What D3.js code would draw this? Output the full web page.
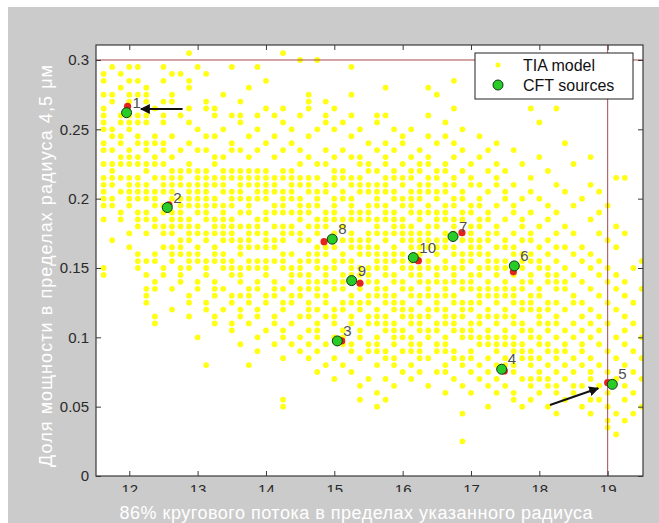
<!DOCTYPE html>
<html>
<head>
<meta charset="utf-8">
<script src="https://cdn.jsdelivr.net/npm/d3@7"></script>
<style>
  html, body { margin: 0; padding: 0; background: #fff; }
  svg { display: block; }
  text { font-family: "Liberation Sans", Arial, sans-serif; }
</style>
</head>
<body>
<svg id="chart" width="659" height="523"></svg>
<script>
// ---- data ----
const xTicks = [12, 13, 14, 15, 16, 17, 18, 19];
const yTicks = [0, 0.05, 0.1, 0.15, 0.2, 0.25, 0.3];
const yTickLabels = ["0", "0.05", "0.1", "0.15", "0.2", "0.25", "0.3"];

// CFT sources (green) and their companion red markers
const cftLabels = ["1", "2", "3", "4", "5", "6", "7", "8", "9", "10"];
const cftX = [11.96, 12.556, 15.044, 17.449, 19.068, 17.634, 16.737, 14.97, 15.254, 16.156];
const cftY = [0.262, 0.1936, 0.0974, 0.077, 0.0661, 0.1515, 0.1727, 0.1708, 0.1409, 0.1575];
const redX = [11.975, 12.58, 15.108, 17.487, 19.0, 17.62, 16.868, 14.85, 15.376, 16.23];
const redY = [0.2665, 0.1955, 0.0974, 0.0758, 0.0673, 0.1472, 0.1755, 0.169, 0.139, 0.1553];

// arrows (tail -> head)
const arrowFrom = [[12.78, 0.2646], [18.156, 0.0512]];
const arrowTo = [[12.17, 0.2646], [18.862, 0.0633]];

const limitX = 19;
const limitY = 0.3;

// TIA model cloud.
// column i sits at x = 11.625 + 0.125*i ; character r in a column is y = 0.305 - 0.005*r
const tiaX0 = 11.625, tiaDx = 0.125, tiaY0 = 0.305, tiaDy = 0.005;
const tiaCols = [
  "...##.#.## ##.##.#.## ###.#..... .##....... .......... ........",
  "..#...##.. .##.#.#### .##....#.. .......... .......... ........",
  "...#.#...# #.##.##.#. #..##..... .......... .......... ........",
  "..#.#.##.# ##..###.## ###...#.#. .......... .......... ........",
  "..#.#.#..# #.##.##.## ##.###...# ##........ .......... ........",
  ".....###.# #..##.##.# ##.##.#... #.#.###... .......... ........",
  "........#. ..##.##.#. ###.##...# #..##...## .......... ........",
  "..#.#..#.# #..##.#.## #.##.##.#. .##....... .......... ........",
  "...#..##.. ..#..#.### ##.####.## #...#..#.. .......... ........",
  "...#.....# ....#..### .#####.### .###...... .......... ........",
  "#...##..#. #..#..##.# ###.####.# ##...##.#. .......... ........",
  "..#....... .#..#..### ####.##.## #..##..... .#........ ........",
  "...#...##. ..#.#..### #####.##.. ###...##.. .....#.... ........",
  "........## ..#..##.## .##.###.## #..###..## .......... ........",
  "......#... .#...#.### #.######.# ##..#..#.. .......... ........",
  "..#......# ...##..##. ###.####.. ###..##..# #......... ........",
  ".......#.# #...#..### ##.#.#.### .###.#.##. ..#....... ........",
  ".....#.... ..#..#.### .###.####. ##..###..# .....#.... ........",
  "..#......# .#..#..### ##..###.#. ##.##..##. .#.#...... ........",
  "....#...#. ...#...### ##.##.###. ###..##... #......... ........",
  ".........# ..#..#..## #.##.#.##. #..###..## ..#....... ........",
  "#.......#. #...#..##. ####.###.# ##..#.##.. ##..#..... ##......",
  ".......... .#.#...### ##.#.##..# .###.##..# ..#....... ........",
  ".#.......# ....#.#.## .####.##.. ###.##..#. .#.#...... ........",
  "......###. ..#..#..## #.##.#.#.# #.###.###. #.#.#..... ........",
  ".#........ .#....#.#. ###.###.## ##.###.#.# ##.#..#... ........",
  ".......#.# #...#.#..# #..###..## .###.##.#. ..#..#.... ........",
  "........#. .#...#.### .####.###. ##.##..### .#..#..#.. ........",
  ".......... #...#..##. ##..##.#.# #.###.##.. ###..#.... ........",
  "..#...#..# ..#..#..## .####.###. ###..##.## ..##..#... ........",
  ".......... .#...##.## #..##..### .####.##.. ##..#...#. #.......",
  ".......... ...#..##.# #.###.#### .###.##.## ..##...#.. ........",
  ".........# #...#..#.# ###.###.## ##.###.### .###.#...# .#......",
  ".....#...# ...#.##.## #.###.##.# ###.###.## #..##..#.. #.......",
  ".......... .#..#..##. ##.####.## #.##.###.# ###.##..#. ........",
  ".......... ..##..#.## .##.####.# ##.##.###. ##.#..#... ........",
  ".......... .#...#.##. ####.####. ###.##.### .###.#.#.. ........",
  ".......... ....#.##.# ##.##.#### .###.##.## #.###.#... ........",
  ".....#...# ..#..##.## #.##.####. ##.###.##. ##..#...#. ........",
  "......#... ...#...##. ##.###.### .###.###.# #.##..#... ........",
  ".......... #.#...##.# #.###.###. ##.###.### .###.##..# ........",
  "....#...#. ...#.#..## .##.###.## .###.##.## #..##..#.. ........",
  ".......... .#..#..#.. ##.##.##.# ##.##.###. ##..##..#. ..#...#.",
  ".......... ......#.## ..##.##### #.###.##.# ##.##.#..# ........",
  ".......... ..#..#...# .##.##.### .##.###.## .##..#.#.. ........",
  ".......... ....#..#.. #..##.##.# ##.###.##. ###.#.#.#. .#......",
  ".......... ...#..#.## ..#..##.#. ###.###.## .###.#.#.# ........",
  ".......... .......#.. ##..#..##. ##.###.##. ###.##..#. ........",
  ".......... ....#....# ..##..#.## .##.###.## .###.##..# #.......",
  ".......... ......#... .#..##.#.# ##.##.##.# #.###..#.. .#......",
  "........#. ........#. #..#..##.# #.##.###.. ##.###.##. #.......",
  ".......... #....#.... .#...#..#. ##..##.### .##.#.##.# ........",
  ".......... .......#.. ..#.#..#.# .###..##.# #.##.#.##. .#......",
  "........#. .........# ...#..#.#. #.###.#.## .#.##.#.## ..#.....",
  ".......... ...#...... #....#..#. .#.##..#.. #.##.#.#.. #.......",
  ".......... ......#... ..#...#..# ..#..##..# .#..#.#.## ........",
  ".......... .......... .#......#. #..#..#.#. #.##.#..#. .#......",
  ".......... .....#...# ....#....# .#..#..#.# .#..#.##.. #.#.....",
  ".......... .......... #..#..#... #.#..#..#. #.#..#..#. #.......",
  ".......... .......... ..#....#.. .#.#..#..# ...#..#..# .#.##...",
  ".......... ........#. .....#..#. ..#.#..#.. .#..#..#.. ..#..#..",
  ".......... ........#. ......#... ...#.#..#. #.#..#..#. #..#....",
  ".......... .......... .......... .#....#..# ...#..#..# ..#.....",
  ".......... .......... .......... #...#..... .#..#..#.. .#......"
];

// ---- build point list from the columns ----
const tia = [];
tiaCols.forEach((col, i) => {
  col.split(" ").forEach((block, b) => {
    for (let k = 0; k < block.length; k++) {
      if (block[k] === "#") tia.push({ x: tiaX0 + i * tiaDx, y: tiaY0 - (b * 10 + k) * tiaDy });
    }
  });
});

const cft = cftLabels.map((l, i) => ({ label: l, x: cftX[i], y: cftY[i], rx: redX[i], ry: redY[i] }));

// ---- layout ----
const W = 659, H = 523;
const plot = { left: 96, right: 643, top: 45, bottom: 476 };

const svg = d3.select("#chart");

const x = d3.scaleLinear().domain([11.513, 19.517]).range([plot.left, plot.right]);
const y = d3.scaleLinear().domain([0, 0.3108]).range([plot.bottom, plot.top]);

// figure background
svg.append("rect").attr("width", W).attr("height", H).attr("fill", "#ffffff");
svg.append("rect").attr("x", 8).attr("y", 7).attr("width", W - 8).attr("height", H - 7).attr("fill", "#cbcbcb");

const defs = svg.append("defs");
defs.append("clipPath").attr("id", "plot-clip")
  .append("rect")
  .attr("x", plot.left).attr("y", plot.top)
  .attr("width", plot.right - plot.left).attr("height", plot.bottom - plot.top);
// the x tick labels are cut off at the bottom in the original
defs.append("clipPath").attr("id", "xlab-clip")
  .append("rect").attr("x", 0).attr("y", 0).attr("width", W).attr("height", 492);
defs.append("marker")
  .attr("id", "arrowhead")
  .attr("viewBox", "0 0 10 10")
  .attr("refX", 9).attr("refY", 5)
  .attr("markerWidth", 5).attr("markerHeight", 5)
  .attr("markerUnits", "strokeWidth")
  .attr("orient", "auto")
  .append("path").attr("d", "M0,0 L10,5 L0,10 z").attr("fill", "#111");

// axes background
svg.append("rect")
  .attr("x", plot.left).attr("y", plot.top)
  .attr("width", plot.right - plot.left).attr("height", plot.bottom - plot.top)
  .attr("fill", "#ffffff");

const inner = svg.append("g").attr("clip-path", "url(#plot-clip)");

// TIA model cloud
inner.selectAll("circle.tia")
  .data(tia)
  .enter().append("circle")
  .attr("class", "tia")
  .attr("cx", d => x(d.x))
  .attr("cy", d => y(d.y))
  .attr("r", 2.9)
  .attr("fill", "#ffff14");

// limit lines
inner.append("line")
  .attr("x1", plot.left).attr("x2", plot.right)
  .attr("y1", y(limitY)).attr("y2", y(limitY))
  .attr("stroke", "#a84a4a").attr("stroke-width", 1);
inner.append("line")
  .attr("x1", x(limitX)).attr("x2", x(limitX))
  .attr("y1", plot.top).attr("y2", plot.bottom)
  .attr("stroke", "#a84a4a").attr("stroke-width", 1);

// axes
const axisColor = "#3a3a3a";
const gx = svg.append("g").attr("clip-path", "url(#xlab-clip)")
  .append("g")
  .attr("transform", `translate(0,${plot.bottom})`)
  .call(d3.axisBottom(x).tickValues(xTicks).tickSizeInner(-5).tickSizeOuter(0).tickPadding(8).tickFormat(d3.format("d")));
const gxTop = svg.append("g")
  .attr("transform", `translate(0,${plot.top})`)
  .call(d3.axisTop(x).tickValues(xTicks).tickSizeInner(-5).tickSizeOuter(0).tickFormat(""));
const gy = svg.append("g")
  .attr("transform", `translate(${plot.left},0)`)
  .call(d3.axisLeft(y).tickValues(yTicks).tickSizeInner(-5).tickSizeOuter(0).tickPadding(7)
    .tickFormat((d, i) => yTickLabels[i]));
const gyRight = svg.append("g")
  .attr("transform", `translate(${plot.right},0)`)
  .call(d3.axisRight(y).tickValues(yTicks).tickSizeInner(-5).tickSizeOuter(0).tickFormat(""));

[gx, gxTop, gy, gyRight].forEach(g => {
  g.select(".domain").remove();
  g.selectAll(".tick line").attr("stroke", axisColor);
  g.selectAll(".tick text")
    .attr("fill", "#2a2a2a")
    .attr("font-size", "15px")
    .attr("font-family", "'Liberation Sans', Arial, sans-serif");
});

svg.append("rect")
  .attr("x", plot.left).attr("y", plot.top)
  .attr("width", plot.right - plot.left).attr("height", plot.bottom - plot.top)
  .attr("fill", "none").attr("stroke", axisColor).attr("stroke-width", 1.2);

// CFT sources
const pts = svg.append("g");
pts.selectAll("circle.red")
  .data(cft)
  .enter().append("circle")
  .attr("class", "red")
  .attr("cx", d => x(d.rx))
  .attr("cy", d => y(d.ry))
  .attr("r", 3.6)
  .attr("fill", "#e3231b");
pts.selectAll("circle.cft")
  .data(cft)
  .enter().append("circle")
  .attr("class", "cft")
  .attr("cx", d => x(d.x))
  .attr("cy", d => y(d.y))
  .attr("r", 5)
  .attr("fill", "#27cc27")
  .attr("stroke", "#123a12")
  .attr("stroke-width", 1);
pts.selectAll("text.num")
  .data(cft)
  .enter().append("text")
  .attr("class", "num")
  .attr("x", d => x(d.x) + 6)
  .attr("y", d => y(d.y) - 5)
  .attr("font-size", "15px")
  .attr("fill", "#505050")
  .text(d => d.label);

// arrows
svg.selectAll("line.arrow")
  .data(arrowFrom)
  .enter().append("line")
  .attr("class", "arrow")
  .attr("x1", d => x(d[0]))
  .attr("y1", d => y(d[1]))
  .attr("x2", (d, i) => x(arrowTo[i][0]))
  .attr("y2", (d, i) => y(arrowTo[i][1]))
  .attr("stroke", "#111")
  .attr("stroke-width", 2)
  .attr("marker-end", "url(#arrowhead)");

// legend
const lg = svg.append("g");
lg.append("rect")
  .attr("x", 475).attr("y", 53).attr("width", 158).attr("height", 46)
  .attr("fill", "#ffffff").attr("stroke", "#222").attr("stroke-width", 1);
lg.append("circle").attr("cx", 498).attr("cy", 65).attr("r", 2.5).attr("fill", "#ffff14");
lg.append("circle").attr("cx", 498).attr("cy", 85).attr("r", 5)
  .attr("fill", "#27cc27").attr("stroke", "#123a12").attr("stroke-width", 1);
lg.append("text").attr("x", 523).attr("y", 71).attr("font-size", "16px").attr("fill", "#111").text("TIA model");
lg.append("text").attr("x", 523).attr("y", 91).attr("font-size", "16px").attr("fill", "#111").text("CFT sources");

// axis titles
svg.append("text")
  .attr("x", 356).attr("y", 519)
  .attr("text-anchor", "middle")
  .attr("font-size", "18px")
  .attr("textLength", 473)
  .attr("lengthAdjust", "spacing")
  .attr("fill", "#ffffff")
  .text("86% кругового потока в пределах указанного радиуса");
svg.append("text")
  .attr("transform", "translate(52,266) rotate(-90)")
  .attr("text-anchor", "middle")
  .attr("font-size", "18px")
  .attr("textLength", 402)
  .attr("lengthAdjust", "spacing")
  .attr("fill", "#ffffff")
  .text("Доля мощности в пределах радиуса 4,5 μм");
</script>
</body>
</html>
